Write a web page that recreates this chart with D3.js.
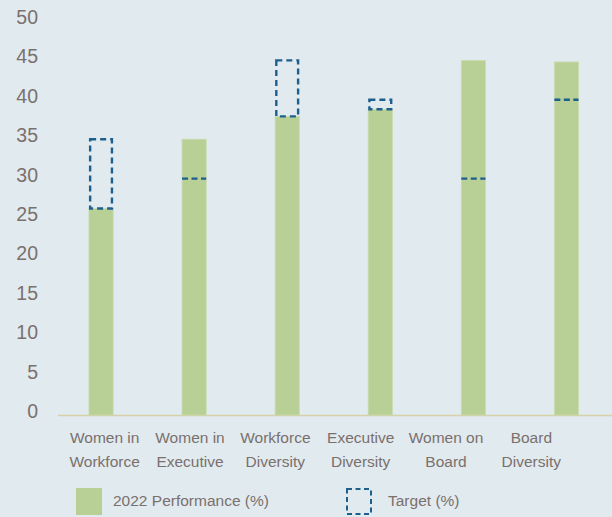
<!DOCTYPE html>
<html><head><meta charset="utf-8">
<script src="https://cdn.jsdelivr.net/npm/d3@7"></script>
<style>
html,body{margin:0;padding:0;background:#e1eaef;}
svg{display:block;}
text{font-family:"Liberation Sans",Arial,sans-serif;fill:#7a706d;}
</style></head>
<body>
<script>
const categories = [["Women in","Workforce"],["Women in","Executive"],["Workforce","Diversity"],["Executive","Diversity"],["Women on","Board"],["Board","Diversity"]];
const performance = [26.2, 35, 37.9, 38.8, 45, 44.8];
const target = [35, 30, 45, 40, 30, 40];
const yTicks = [0,5,10,15,20,25,30,35,40,45,50];
const legendLabels = ["2022 Performance (%)", "Target (%)"];

const W = 612, H = 517;
const green = "#b8cf96", blue = "#1d5f8d";
const svg = d3.select("body").append("svg").attr("width", W).attr("height", H);
svg.append("rect").attr("width", W).attr("height", H).attr("fill", "#e1eaef");

const idx = categories.map((d,i)=>i);
const y = d3.scaleLinear().domain([0,50]).range([415,21]);
const xBar = d3.scaleBand().domain(idx).range([54.5,613]).paddingInner(0.74).paddingOuter(0.37);
const xLab = d3.scaleBand().domain(idx).range([62,574]);

// y tick labels
svg.append("g").selectAll("text").data(yTicks).join("text")
  .attr("x", 38).attr("y", d=>y(d)+3).attr("text-anchor","end")
  .attr("font-size","19.5px").text(d=>d);

// axis line
svg.append("line").attr("x1",58).attr("x2",612).attr("y1",y(0)+0.5).attr("y2",y(0)+0.5)
  .attr("stroke","#d6d1a6").attr("stroke-width",1.5);

// bars
svg.append("g").selectAll("rect").data(idx).join("rect")
  .attr("x", i=>xBar(i)).attr("width", xBar.bandwidth())
  .attr("y", i=>y(performance[i])).attr("height", i=>y(0)-y(performance[i]))
  .attr("fill", green).attr("stroke","#c9dcb0").attr("stroke-width",0.8);

// targets
const tg = svg.append("g");
idx.forEach(i=>{
  const x0 = xBar(i)+1.2, w = xBar.bandwidth()-2.4;
  if (target[i] > performance[i]) {
    tg.append("rect").attr("x", x0).attr("width", w)
      .attr("y", y(target[i])).attr("height", y(performance[i])-y(target[i]))
      .attr("fill","none").attr("stroke", blue).attr("stroke-width",2.4)
      .attr("stroke-dasharray","6,4");
  } else {
    tg.append("line").attr("x1", xBar(i)).attr("x2", xBar(i)+xBar.bandwidth())
      .attr("y1", y(target[i])).attr("y2", y(target[i]))
      .attr("stroke", blue).attr("stroke-width",2.4).attr("stroke-dasharray","6,3.5");
  }
});

// category labels
const lab = svg.append("g").selectAll("text").data(idx).join("text")
  .attr("text-anchor","middle").attr("font-size","15.5px");
lab.each(function(i){
  const t = d3.select(this);
  categories[i].forEach((s,k)=>{
    t.append("tspan").attr("x", xLab(i)+xLab.bandwidth()/2).attr("y", 443 + k*24).text(s);
  });
});

// legend
const lg = svg.append("g");
lg.append("rect").attr("x",76).attr("y",488).attr("width",26).attr("height",27).attr("fill",green);
lg.append("text").attr("x",113).attr("y",506).attr("font-size","15.5px").text(legendLabels[0]);
lg.append("rect").attr("x",347).attr("y",489).attr("width",24).attr("height",25)
  .attr("fill","none").attr("stroke",blue).attr("stroke-width",2).attr("stroke-dasharray","5,3.5");
lg.append("text").attr("x",388).attr("y",506).attr("font-size","15.5px").text(legendLabels[1]);
</script>
</body></html>
